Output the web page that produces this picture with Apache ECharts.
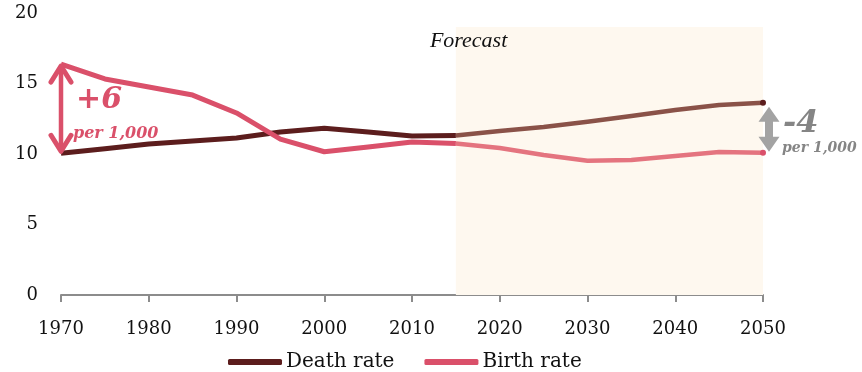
<!DOCTYPE html>
<html>
<head>
<meta charset="utf-8">
<script src="https://cdn.jsdelivr.net/npm/echarts@6/dist/echarts.min.js"></script>
<style>
  html, body { margin: 0; padding: 0; background: #ffffff; }
  #chart { width: 862px; height: 372px; }
</style>
</head>
<body>
<div id="chart"></div>
<script>
// Crude birth and death rates, per 1,000 people
const years = [1970, 1975, 1980, 1985, 1990, 1995, 2000, 2005, 2010, 2015,
               2020, 2025, 2030, 2035, 2040, 2045, 2050];
const deathRate = [10.05, 10.38, 10.71, 10.92, 11.13, 11.56, 11.82, 11.56, 11.28, 11.31,
                   11.63, 11.91, 12.29, 12.70, 13.12, 13.48, 13.64];
const birthRate = [16.38, 15.32, 14.75, 14.18, 12.91, 11.06, 10.16, 10.50, 10.85, 10.74,
                   10.43, 9.93, 9.52, 9.57, 9.86, 10.14, 10.09];
const forecastStart = 2015;
const forecastTop = 19;
const xTicks = { min: 1970, max: 2050, step: 10 };
const yTicks = { min: 0, max: 20, step: 5 };
const seriesNames = ['Death rate', 'Birth rate'];
const forecastLabel = 'Forecast';
const gapStart = { label: '+6', unit: 'per 1,000' };
const gapEnd = { label: '-4', unit: 'per 1,000' };

const colors = {
  death: '#5c1d1d',
  deathForecast: '#8a5248',
  birth: '#da506a',
  birthForecast: '#e4747f',
  shade: '#fef8ef',
  grey: '#a3a3a3',
  greyText: '#858585'
};

const pairs = (vals, keep) => years
  .map((y, i) => [y, vals[i]])
  .filter(p => keep(p[0]));
const past = y => y <= forecastStart;
const future = y => y >= forecastStart;

function withEndDot(data, color) {
  return data.map((p, i) => i === data.length - 1
    ? { value: p, symbol: 'circle', symbolSize: 6, itemStyle: { color: color } }
    : { value: p, symbol: 'none' });
}

const axisFont = { fontFamily: 'DejaVu Serif', fontSize: 18, color: '#111' };

const chart = echarts.init(document.getElementById('chart'), null, { renderer: 'canvas' });

chart.setOption({
  animation: false,
  backgroundColor: '#ffffff',
  grid: { left: 61, right: 99, top: 13, bottom: 77, containLabel: false },
  legend: {
    data: seriesNames,
    left: 223,
    top: 347,
    icon: 'roundRect',
    itemWidth: 54,
    itemHeight: 6,
    itemGap: 30,
    textStyle: { fontFamily: 'DejaVu Serif', fontSize: 20, color: '#111', padding: [0, 0, 0, -1] }
  },
  xAxis: {
    type: 'value',
    min: xTicks.min,
    max: xTicks.max,
    interval: xTicks.step,
    axisLine: { show: true, lineStyle: { color: '#8c8c8c', width: 2 } },
    axisTick: { show: true, length: 7, lineStyle: { color: '#8c8c8c', width: 2 } },
    splitLine: { show: false },
    axisLabel: Object.assign({ margin: 25, formatter: v => String(v) }, axisFont)
  },
  yAxis: {
    type: 'value',
    min: yTicks.min,
    max: yTicks.max,
    interval: yTicks.step,
    axisLine: { show: false },
    axisTick: { show: false },
    splitLine: { show: false },
    axisLabel: Object.assign({ margin: 23 }, axisFont)
  },
  series: [
    {
      name: 'shade',
      type: 'line',
      z: 1,
      data: [],
      silent: true,
      markArea: {
        silent: true,
        itemStyle: { color: colors.shade },
        data: [[{ coord: [forecastStart, 0] }, { coord: [xTicks.max, forecastTop] }]]
      }
    },
    {
      name: seriesNames[0],
      type: 'line',
      z: 4,
      data: pairs(deathRate, past),
      symbol: 'none',
      color: colors.death,
      lineStyle: { width: 5, color: colors.death, cap: 'butt', join: 'round' }
    },
    {
      name: seriesNames[0] + ' forecast',
      type: 'line',
      z: 3,
      data: withEndDot(pairs(deathRate, future), colors.death),
      showSymbol: true,
      color: colors.deathForecast,
      lineStyle: { width: 4.5, color: colors.deathForecast, join: 'round' }
    },
    {
      name: seriesNames[1],
      type: 'line',
      z: 4,
      data: pairs(birthRate, past),
      symbol: 'none',
      color: colors.birth,
      lineStyle: { width: 5, color: colors.birth, cap: 'butt', join: 'round' }
    },
    {
      name: seriesNames[1] + ' forecast',
      type: 'line',
      z: 3,
      data: withEndDot(pairs(birthRate, future), colors.birth),
      showSymbol: true,
      color: colors.birthForecast,
      lineStyle: { width: 4.5, color: colors.birthForecast, join: 'round' }
    }
  ]
});

// Annotations placed from the data through the grid's coordinate system
function px(x, y) { return chart.convertToPixel({ gridIndex: 0 }, [x, y]); }

const first = 0;
const last = years.length - 1;
const topL = px(years[first], birthRate[first]);
const botL = px(years[first], deathRate[first]);
const topR = px(years[last], deathRate[last]);
const botR = px(years[last], birthRate[last]);
const shadeTop = px(forecastStart, forecastTop);

const ax = topL[0];
const head = 10, headLen = 16;
const arrowStyle = { stroke: colors.birth, lineWidth: 5, fill: null, lineJoin: 'round', lineCap: 'round' };
const pinkArrow = [
  { type: 'polyline', z: 50, shape: { points: [[ax, topL[1] + 3], [ax, botL[1] - 3]] },
    style: Object.assign({}, arrowStyle, { lineWidth: 4.5 }) },
  { type: 'polyline', z: 50, shape: { points: [[ax - head, topL[1] + headLen + 2], [ax, topL[1] + 2], [ax + head, topL[1] + headLen + 2]] },
    style: arrowStyle },
  { type: 'polyline', z: 50, shape: { points: [[ax - head, botL[1] - headLen - 2], [ax, botL[1] - 2], [ax + head, botL[1] - headLen - 2]] },
    style: arrowStyle }
];

const gx = topR[0] + 6;
const gt = topR[1] + 4, gb = botR[1] - 1;
const hw = 10.5, hh = 15, sw = 4;
const greyArrow = {
  type: 'polygon',
  z: 50,
  shape: { points: [
    [gx, gt], [gx + hw, gt + hh], [gx + sw, gt + hh], [gx + sw, gb - hh], [gx + hw, gb - hh],
    [gx, gb], [gx - hw, gb - hh], [gx - sw, gb - hh], [gx - sw, gt + hh], [gx - hw, gt + hh]
  ] },
  style: { fill: colors.grey }
};

chart.setOption({
  graphic: pinkArrow.concat([
    greyArrow,
    { type: 'text', z: 50, left: shadeTop[0] - 26, top: shadeTop[1] + 3,
      style: { text: forecastLabel, font: 'italic 22px "Liberation Serif"', fill: '#111' } },
    { type: 'text', z: 50, x: ax + 15, y: topL[1] + 36,
      style: { text: gapStart.label, font: 'italic bold 30px "DejaVu Serif"', fill: colors.birth, verticalAlign: 'middle' } },
    { type: 'text', z: 50, x: ax + 12, y: topL[1] + 70,
      style: { text: gapStart.unit, font: 'italic bold 16px "DejaVu Serif"', fill: colors.birth, verticalAlign: 'middle' } },
    { type: 'text', z: 50, x: gx + 14, y: topR[1] + 21,
      style: { text: gapEnd.label, font: 'italic bold 32px "DejaVu Serif"', fill: colors.greyText, verticalAlign: 'middle' } },
    { type: 'text', z: 50, x: gx + 13, y: topR[1] + 46,
      style: { text: gapEnd.unit, font: 'italic bold 14px "DejaVu Serif"', fill: colors.greyText, verticalAlign: 'middle' } }
  ])
});
</script>
</body>
</html>
